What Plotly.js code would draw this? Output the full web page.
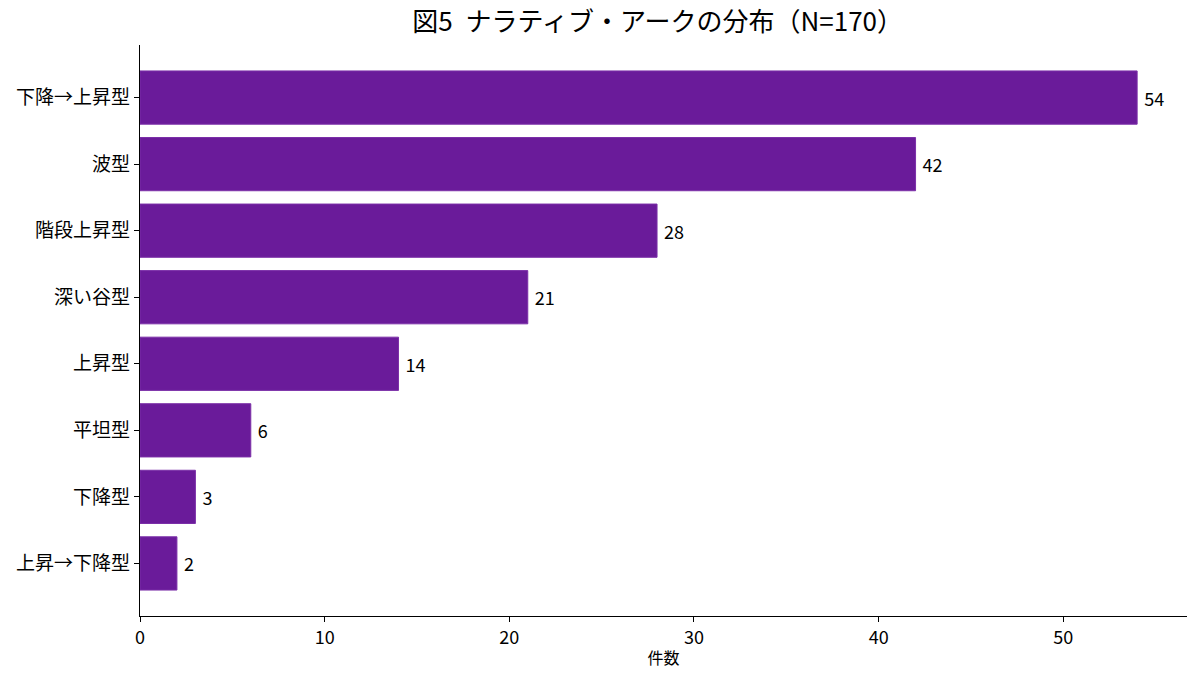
<!DOCTYPE html>
<html>
<head>
<meta charset="utf-8">
<script src="https://cdn.plot.ly/plotly-3.0.1.min.js"></script>
<style>
  html, body { margin: 0; padding: 0; background: #fff; }
  #graph { width: 1200px; height: 685px; }
</style>
</head>
<body>
<div id="graph"></div>
<script>
// categories listed top to bottom, as in the figure
var categories = ["下降→上昇型", "波型", "階段上昇型", "深い谷型", "上昇型", "平坦型", "下降型", "上昇→下降型"];
var counts = [54, 42, 28, 21, 14, 6, 3, 2];
var xTicks = [0, 10, 20, 30, 40, 50];

var font = "Noto Sans CJK JP, Noto Sans, sans-serif";

// reverse so the first category is drawn at the top
var yCats = categories.slice().reverse();
var xVals = counts.slice().reverse();

var trace = {
	type: 'bar',
	orientation: 'h',
	x: xVals,
	y: yCats,
	width: 0.8,
	marker: {
		color: '#6a1b9a',
		line: { color: '#7b2fa8', width: 1 }
	},
	text: xVals.map(function (v) { return " " + v; }),
	textposition: 'outside',
	cliponaxis: false,
	textfont: { family: font, size: 18, color: '#000' },
	hoverinfo: 'none'
};

var layout = {
	width: 1200,
	height: 685,
	margin: { l: 140, r: 13, t: 45, b: 69 },
	paper_bgcolor: '#fff',
	plot_bgcolor: '#fff',
	font: { family: font, size: 18, color: '#000' },
	title: {
		text: "図5\u2002ナラティブ・アークの分布（N=170）",
		font: { family: font, size: 26, color: '#000' },
		x: 0.548,
		xanchor: 'center',
		y: 0.968,
		yanchor: 'middle'
	},
	xaxis: {
		range: [0, 56.7],
		tickvals: xTicks,
		ticks: 'outside',
		ticklen: 5,
		tickcolor: '#000',
		showline: true,
		linecolor: '#000',
		linewidth: 1.2,
		showgrid: false,
		zeroline: false,
		tickfont: { family: font, size: 18, color: '#000' },
		title: { text: "件数", font: { family: font, size: 16, color: '#000' }, standoff: 5 }
	},
	yaxis: {
		range: [-0.79, 7.79],
		ticks: 'outside',
		ticklen: 5,
		tickcolor: '#000',
		showline: true,
		linecolor: '#000',
		linewidth: 1.2,
		showgrid: false,
		zeroline: false,
		tickfont: { family: font, size: 19, color: '#000' }
	},
	showlegend: false,
	bargap: 0.2
};

Plotly.newPlot('graph', [trace], layout, { displayModeBar: false, staticPlot: true });
</script>
</body>
</html>
